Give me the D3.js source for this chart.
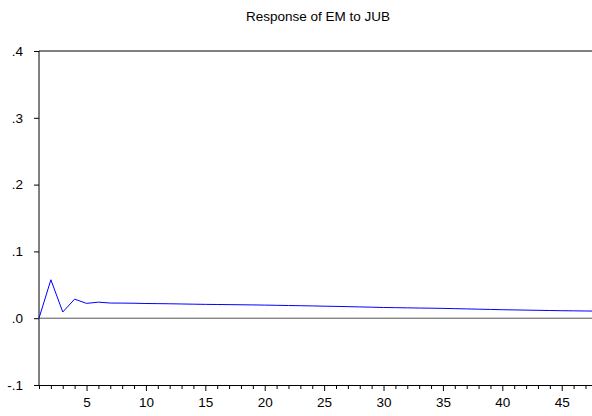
<!DOCTYPE html>
<html>
<head>
<meta charset="utf-8">
<script src="https://cdn.jsdelivr.net/npm/d3@7"></script>
<style>
body { margin: 0; background: #fff; }
text { font-family: "Liberation Sans", Arial, sans-serif; }
</style>
</head>
<body>
<script>
// response values by period
var periods = d3.range(1, 49);
var response = [
    0.000, 0.0575, 0.0093, 0.0285, 0.0222, 0.0240, 0.0227, 0.0226, 0.0224, 0.0220,
    0.0218, 0.0216, 0.0213, 0.0210, 0.0207, 0.0205, 0.0203, 0.0201, 0.0199, 0.0196,
    0.0193, 0.0190, 0.0187, 0.0184, 0.0180, 0.0177, 0.0173, 0.0169, 0.0165, 0.0160,
    0.0158, 0.0155, 0.0152, 0.0150, 0.0147, 0.0143, 0.0139, 0.0135, 0.0131, 0.0127,
    0.0124, 0.0121, 0.0118, 0.0115, 0.0112, 0.0110, 0.0108, 0.0106
];
var yTicks = [-0.1, 0, 0.1, 0.2, 0.3, 0.4];
var yTickLabels = ["-.1", ".0", ".1", ".2", ".3", ".4"];
var xLabelTicks = [5, 10, 15, 20, 25, 30, 35, 40, 45];

var W = 592, H = 416;
var margin = {top: 51, left: 39, bottom: 31};

var svg = d3.select("body").append("svg")
    .attr("width", W)
    .attr("height", H);

var x = d3.scaleLinear().domain([1, 48]).range([margin.left, margin.left + 47 * 11.88]);
var y = d3.scaleLinear().domain([-0.1, 0.4]).range([H - margin.bottom, margin.top]);

svg.append("text")
    .attr("x", 318)
    .attr("y", 21)
    .attr("text-anchor", "middle")
    .attr("font-size", 13.5)
    .attr("fill", "#000")
    .text("Response of EM to JUB");

// frame: top and left
svg.append("line")
    .attr("x1", margin.left).attr("x2", W)
    .attr("y1", y(0.4)).attr("y2", y(0.4))
    .attr("stroke", "#000").attr("stroke-width", 1);
svg.append("line")
    .attr("x1", margin.left).attr("x2", margin.left)
    .attr("y1", y(0.4)).attr("y2", y(-0.1))
    .attr("stroke", "#000").attr("stroke-width", 1);

// zero line
svg.append("line")
    .attr("x1", margin.left).attr("x2", W)
    .attr("y1", y(0)).attr("y2", y(0))
    .attr("stroke", "#555").attr("stroke-width", 1);

// y axis
var yAxis = svg.append("g")
    .attr("transform", "translate(" + margin.left + ",0)")
    .call(d3.axisLeft(y).tickValues(yTicks).tickSize(5).tickPadding(11)
        .tickFormat(function(d, i) { return yTickLabels[i]; }));
yAxis.select(".domain").remove();
yAxis.selectAll("text").attr("font-size", 13.5).attr("fill", "#000")
    .attr("font-family", "Liberation Sans, Arial, sans-serif");
yAxis.selectAll("line").attr("stroke", "#000");

// x axis: minor ticks every period, labels every 5
var xAxis = svg.append("g")
    .attr("transform", "translate(0," + y(-0.1) + ")")
    .call(d3.axisBottom(x).tickValues(periods).tickSizeOuter(0).tickSize(4).tickPadding(8)
        .tickFormat(function(d) { return xLabelTicks.indexOf(d) >= 0 ? d : ""; }));
xAxis.select(".domain").attr("stroke", "#000").attr("d", "M" + margin.left + ",0.5H" + W);
xAxis.selectAll(".tick line")
    .attr("stroke", "#000")
    .attr("y2", function(d) { return xLabelTicks.indexOf(d) >= 0 ? 6 : 4; });
xAxis.selectAll("text").attr("font-size", 13.5).attr("fill", "#000")
    .attr("font-family", "Liberation Sans, Arial, sans-serif");

var line = d3.line()
    .x(function(d, i) { return x(periods[i]); })
    .y(function(d) { return y(d); });

svg.append("path")
    .datum(response)
    .attr("fill", "none")
    .attr("stroke", "#0000ff")
    .attr("stroke-width", 1)
    .attr("d", line);
</script>
</body>
</html>
